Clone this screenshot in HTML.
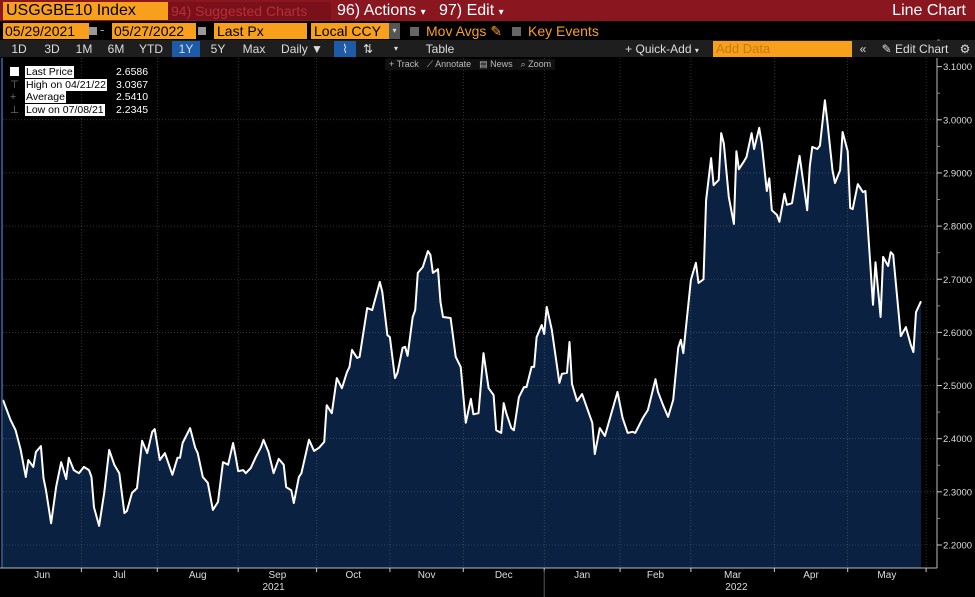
<!DOCTYPE html>
<html><head><meta charset="utf-8"><style>
body{margin:0;width:975px;height:597px;overflow:hidden;background:#000;font-family:"Liberation Sans",sans-serif;position:relative}
.abs{position:absolute}
.or{background:#f8a01c;color:#000}
.tb{position:absolute;top:41px;height:16px;font-size:12px;color:#ddd;line-height:16px;text-align:center}
</style></head><body>
<div class="abs" style="left:0;top:0;width:975px;height:21px;background:#8a1620"></div>
<div class="abs or" style="left:3px;top:2px;width:162px;height:18px;font-size:16px;line-height:18px;padding-left:3px">USGGBE10 Index</div>
<div class="abs" style="left:168px;top:2px;width:160px;height:18px;background:#7a1019;color:#b3303a;font-size:14px;line-height:18px;padding-left:3px">94) Suggested Charts</div>
<div class="abs" style="left:334px;top:2px;width:96px;height:18px;color:#fff;font-size:16px;line-height:18px;padding-left:3px">96) Actions <span style="font-size:10px">▾</span></div>
<div class="abs" style="left:436px;top:2px;width:80px;height:18px;color:#fff;font-size:16px;line-height:18px;padding-left:3px">97) Edit <span style="font-size:10px">▾</span></div>
<div class="abs" style="right:9px;top:2px;color:#fff;font-size:16px;line-height:18px">Line Chart</div>

<div class="abs or" style="left:3px;top:23px;width:84px;height:16px;font-size:14px;line-height:16px;padding-left:2px">05/29/2021</div>
<div class="abs" style="left:89px;top:27px;width:8px;height:8px;background:#999"></div>
<div class="abs" style="left:100px;top:22px;color:#aaa;font-size:13px">-</div>
<div class="abs or" style="left:112px;top:23px;width:82px;height:16px;font-size:14px;line-height:16px;padding-left:2px">05/27/2022</div>
<div class="abs" style="left:198px;top:27px;width:8px;height:8px;background:#999"></div>
<div class="abs or" style="left:214px;top:23px;width:90px;height:16px;font-size:14px;line-height:16px;padding-left:3px">Last Px</div>
<div class="abs or" style="left:311px;top:23px;width:75px;height:16px;font-size:14px;line-height:16px;padding-left:3px">Local CCY</div>
<div class="abs" style="left:389px;top:23px;width:11px;height:16px;background:#555;color:#ddd;font-size:8px;line-height:16px;text-align:center">▾</div>
<div class="abs" style="left:410px;top:27px;width:9px;height:9px;background:#666"></div>
<div class="abs" style="left:426px;top:23px;color:#f8a01c;font-size:14px;line-height:16px">Mov Avgs ✎</div>
<div class="abs" style="left:512px;top:27px;width:9px;height:9px;background:#666"></div>
<div class="abs" style="left:528px;top:23px;color:#f8a01c;font-size:14px;line-height:16px">Key Events</div>

<div class="abs" style="left:0;top:40px;width:975px;height:17px;background:#1e1e1e"></div>
<div class="tb" style="left:5px;width:28px">1D</div>
<div class="tb" style="left:38px;width:28px">3D</div>
<div class="tb" style="left:70px;width:28px">1M</div>
<div class="tb" style="left:102px;width:28px">6M</div>
<div class="tb" style="left:135px;width:32px">YTD</div>
<div class="tb" style="left:172px;width:28px;background:#1d5aa8">1Y</div>
<div class="tb" style="left:204px;width:28px">5Y</div>
<div class="tb" style="left:238px;width:32px">Max</div>
<div class="tb" style="left:274px;width:56px">Daily ▼</div>
<div class="tb" style="left:334px;width:22px;background:#1d5aa8">⌇</div>
<div class="tb" style="left:358px;width:20px">⇅</div>
<div class="tb" style="left:386px;width:20px;font-size:8px">▾</div>
<div class="tb" style="left:415px;width:50px">Table</div>
<div class="tb" style="left:616px;width:92px">+ Quick-Add <span style="font-size:8px">▾</span></div>
<div class="abs or" style="left:713px;top:41px;width:136px;height:16px;color:#c77a10;font-size:13px;line-height:16px;padding-left:3px">Add Data</div>
<div class="tb" style="left:853px;width:20px">«</div>
<div class="tb" style="left:875px;width:80px">✎ Edit Chart</div>
<div class="tb" style="left:957px;width:16px">⚙</div>

<svg class="abs" style="left:0;top:0" width="975" height="597">
<g id="grid"></g><path id="area" fill="#0b2142"/><g id="grid2"></g><path id="line" fill="none" stroke="#fff" stroke-width="2" stroke-linejoin="round"/>
<line x1="2" y1="58" x2="2" y2="568" stroke="#2f6cb0" stroke-width="1.5"/>
<g id="axes"></g>
</svg>

<div class="abs" style="left:385px;top:59px;font-size:9px;color:#bbb;background:#111">
<span style="padding:0 4px">+ Track</span><span style="padding:0 4px">⟋ Annotate</span><span style="padding:0 4px">▤ News</span><span style="padding:0 4px">⌕ Zoom</span></div>

<div class="abs" style="left:10px;top:66px;font-size:10.5px;line-height:12.5px;color:#fff">
<div><span style="display:inline-block;width:9px;height:9px;background:#fff;margin-right:6px;vertical-align:-1px"></span><span style="background:#fff;color:#000;padding:0 1px">Last Price</span><span style="position:absolute;left:106px">2.6586</span></div>
<div><span style="color:#777;margin-right:5px;display:inline-block;width:10px">⊤</span><span style="background:#fff;color:#000;padding:0 1px">High on 04/21/22</span><span style="position:absolute;left:106px">3.0367</span></div>
<div><span style="color:#777;margin-right:5px;display:inline-block;width:10px">+</span><span style="background:#fff;color:#000;padding:0 1px">Average</span><span style="position:absolute;left:106px">2.5410</span></div>
<div><span style="color:#777;margin-right:5px;display:inline-block;width:10px">⊥</span><span style="background:#fff;color:#000;padding:0 1px">Low on 07/08/21</span><span style="position:absolute;left:106px">2.2345</span></div>
</div>

<script>
const days=[0,3,5,7,9,10,12,13,15,16,17,19,21,23,25,26,28,30,32,34,35,36,38,40,42,44,46,48,49,51,53,55,57,59,60,62,64,67,69,70,71,74,76,77,79,81,83,85,87,89,91,92,93,95,96,98,100,102,103,105,107,109,111,112,114,115,117,118,121,123,125,127,128,130,132,134,136,137,138,140,141,144,146,149,150,152,153,155,156,158,159,160,162,163,164,166,168,169,170,172,173,174,177,179,181,183,185,186,188,190,192,194,195,197,198,199,201,202,204,206,207,209,210,211,213,214,215,217,220,221,223,224,225,227,229,233,234,236,238,243,245,247,249,250,253,255,258,259,261,263,265,267,268,269,272,274,275,277,278,280,281,283,284,285,287,289,290,291,293,294,296,297,299,300,302,303,304,306,307,309,310,312,315,318,319,320,322,323,325,326,328,329,331,332,334,335,336,338,340,341,344,345,347,348,350,351,352,355,357,359,360,361,363];
const values=[2.473,2.435,2.416,2.379,2.328,2.360,2.347,2.375,2.386,2.326,2.303,2.241,2.309,2.356,2.324,2.364,2.341,2.335,2.347,2.341,2.328,2.271,2.236,2.298,2.379,2.351,2.335,2.260,2.264,2.298,2.307,2.396,2.373,2.413,2.418,2.360,2.373,2.332,2.364,2.364,2.392,2.420,2.383,2.373,2.328,2.317,2.266,2.281,2.356,2.351,2.392,2.366,2.339,2.341,2.335,2.345,2.366,2.384,2.398,2.375,2.335,2.362,2.351,2.309,2.303,2.279,2.328,2.335,2.398,2.377,2.383,2.394,2.463,2.448,2.514,2.495,2.525,2.535,2.567,2.552,2.554,2.646,2.642,2.695,2.676,2.595,2.591,2.514,2.524,2.571,2.573,2.556,2.629,2.642,2.712,2.723,2.753,2.746,2.712,2.719,2.657,2.629,2.627,2.554,2.535,2.430,2.475,2.446,2.448,2.561,2.495,2.482,2.416,2.411,2.467,2.448,2.420,2.416,2.478,2.497,2.497,2.535,2.535,2.591,2.614,2.597,2.648,2.605,2.505,2.522,2.524,2.582,2.503,2.471,2.484,2.430,2.371,2.420,2.405,2.488,2.439,2.411,2.413,2.411,2.439,2.454,2.512,2.488,2.463,2.441,2.473,2.571,2.586,2.561,2.699,2.731,2.693,2.700,2.849,2.928,2.877,2.887,2.975,2.956,2.855,2.804,2.941,2.907,2.922,2.930,2.975,2.945,2.985,2.956,2.866,2.890,2.830,2.821,2.808,2.861,2.840,2.843,2.932,2.830,2.913,2.949,2.945,2.951,3.0367,2.994,2.905,2.881,2.905,2.977,2.941,2.834,2.832,2.879,2.864,2.866,2.652,2.732,2.629,2.742,2.725,2.751,2.746,2.593,2.610,2.576,2.563,2.638,2.6586];
const yTicks=[2.2,2.3,2.4,2.5,2.6,2.7,2.8,2.9,3.0,3.1];
const monthTickDays=[31,61,93,124,153,182,214,244,272,305,334,365];
const monthLabels=["Jun","Jul","Aug","Sep","Oct","Nov","Dec","Jan","Feb","Mar","Apr","May"];
const yearLabels=["2021","2022"];
const yearLabelDays=[107,290];

const X=d=>3+d*2.529;
const Y=v=>545-(v-2.2)*531.5;
const NS="http://www.w3.org/2000/svg";
function mk(parent,tag,attrs,text){const e=document.createElementNS(NS,tag);for(const k in attrs)e.setAttribute(k,attrs[k]);if(text!==undefined)e.textContent=text;parent.appendChild(e);return e;}
const grid=document.getElementById('grid'),grid2=document.getElementById('grid2'),axes=document.getElementById('axes');
yTicks.forEach(v=>{if(v<3.1){
 const g=mk(grid2,'line',{x1:3,x2:936,y1:Y(v),y2:Y(v),stroke:'#8a8a8a','stroke-width':0.6,'stroke-dasharray':'1,2',opacity:0.6});
 
 
}});
monthTickDays.forEach(d=>{
 const g=mk(grid2,'line',{x1:X(d),x2:X(d),y1:58,y2:568,stroke:'#8a8a8a','stroke-width':0.6,'stroke-dasharray':'1,2',opacity:0.6});
 
 
});
let dl='';days.forEach((d,i)=>{dl+=(i?'L':'M')+X(d).toFixed(1)+','+Y(values[i]).toFixed(1);});
const line=document.getElementById('line');line.setAttribute('d',dl);


const area=document.getElementById('area');
area.setAttribute('d',dl+'L'+X(days[days.length-1]).toFixed(1)+',568L'+X(days[0]).toFixed(1)+',568Z');


mk(axes,'line',{x1:937,x2:937,y1:58,y2:568,stroke:'#bbb','stroke-width':1});
yTicks.forEach(v=>{
 mk(axes,'line',{x1:937,x2:942,y1:Y(v),y2:Y(v),stroke:'#ccc'});
 mk(axes,'line',{x1:937,x2:940,y1:Y(v+0.05),y2:Y(v+0.05),stroke:'#888'});
 const t=mk(axes,'text',{x:943,y:Y(v)+3.5,fill:'#ddd','font-size':9.5,'font-family':'Liberation Sans, sans-serif'},v.toFixed(4));
 
 
});
mk(axes,'line',{x1:0,x2:937,y1:568,y2:568,stroke:'#bbb'});
monthTickDays.forEach(d=>mk(axes,'line',{x1:X(d),x2:X(d),y1:568,y2:572,stroke:'#ccc'}));
let prev=0;
monthTickDays.forEach((d,i)=>{
 const t=mk(axes,'text',{x:(X(prev)+X(d))/2,y:578,fill:'#ddd','font-size':10,'text-anchor':'middle','font-family':'Liberation Sans, sans-serif'},monthLabels[i]);
 
 
 prev=d;
});
mk(axes,'line',{x1:X(214),x2:X(214),y1:570,y2:597,stroke:'#555'});
yearLabels.forEach((y,i)=>{
 const t=mk(axes,'text',{x:X(yearLabelDays[i]),y:590,fill:'#ddd','font-size':10,'text-anchor':'middle','font-family':'Liberation Sans, sans-serif'},y);
 
 
});
</script>
</body></html>
